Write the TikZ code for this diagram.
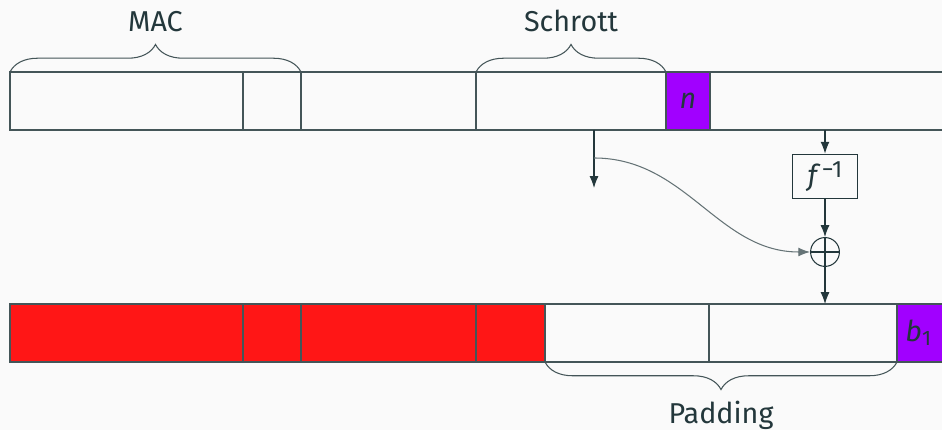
\documentclass[tikz,border=0pt,11pt]{standalone}
\usepackage{fontspec}
\setmainfont{Fira Sans}
\usetikzlibrary{decorations.pathreplacing,arrows.meta}

\definecolor{mDarkTeal}{HTML}{23373B}
\definecolor{slidebg}{HTML}{FAFAFA}
\definecolor{cutred}{HTML}{FF1616}
\definecolor{keypurple}{HTML}{A100FF}

\tikzset{
  block/.style={draw=mDarkTeal!85, line width=0.45pt},
  opbox/.style={draw=mDarkTeal, minimum width=24.5pt, minimum height=17pt, inner sep=1pt},
  xorop/.style={circle, draw=mDarkTeal, minimum size=11pt, inner sep=0pt,
    path picture={
      \draw[mDarkTeal] (path picture bounding box.north) -- (path picture bounding box.south);
      \draw[mDarkTeal] (path picture bounding box.west) -- (path picture bounding box.east);
    }},
  flow/.style={draw=mDarkTeal, -{Latex[length=4.5pt,width=3.4pt]}},
  curly/.style={draw=mDarkTeal!85, decorate, decoration={brace, amplitude=10.5pt}}
}

\begin{document}
\begin{tikzpicture}[x=0.0134cm, y=-0.0134cm, every node/.style={text=mDarkTeal}]

\fill[slidebg] (0,0) rectangle (942,430);
\useasboundingbox (0,0) rectangle (942,430);

% upper row
\foreach \a/\b in {10/243, 243/301, 301/476, 476/666, 710/960}
  \draw[block] (\a,72) rectangle (\b,130);
\draw[block, fill=keypurple] (666,72) rectangle (710,130);
\node (n) at (688,101) {\textit{n}};

% lower row
\foreach \a/\b in {10/243, 243/301, 301/476, 476/545}
  \draw[block, fill=cutred] (\a,304) rectangle (\b,362);
\foreach \a/\b in {545/709, 709/897}
  \draw[block] (\a,304) rectangle (\b,362);
\draw[block, fill=keypurple] (897,304) rectangle (960,362);
\node (b1) at (919,333) {\textit{b}\textsubscript{1}};

% braces
\draw[curly] (10,72) -- (301,72) node[midway, above=11.5pt] (mac) {MAC};
\draw[curly] (476,72) -- (666,72) node[midway, above=11.5pt] (junk) {Schrott};
\draw[curly] (897,362) -- (545,362) node[midway, below=11pt] (pad) {Padding};

% decryption step
\coordinate (tap) at (594,130);
\coordinate (fork) at (594,158);
\coordinate (drop) at (594,188);
\coordinate (ctop) at (825,130);
\coordinate (cin) at (825,304);
\node[opbox] (finv) at (825,176.5) {\textit{f}\kern0.5pt\raisebox{0.55ex}{\footnotesize −1}};
\node[xorop] (xor) at (825,252) {};

\draw[flow] (tap) -- (drop);
\draw[flow] (ctop) -- (finv);
\draw[flow] (finv) -- (xor);
\draw[flow] (xor) -- (cin);
\draw[flow, draw=mDarkTeal!70] (fork) to[out=0, in=180] (xor);

\end{tikzpicture}
\end{document}
